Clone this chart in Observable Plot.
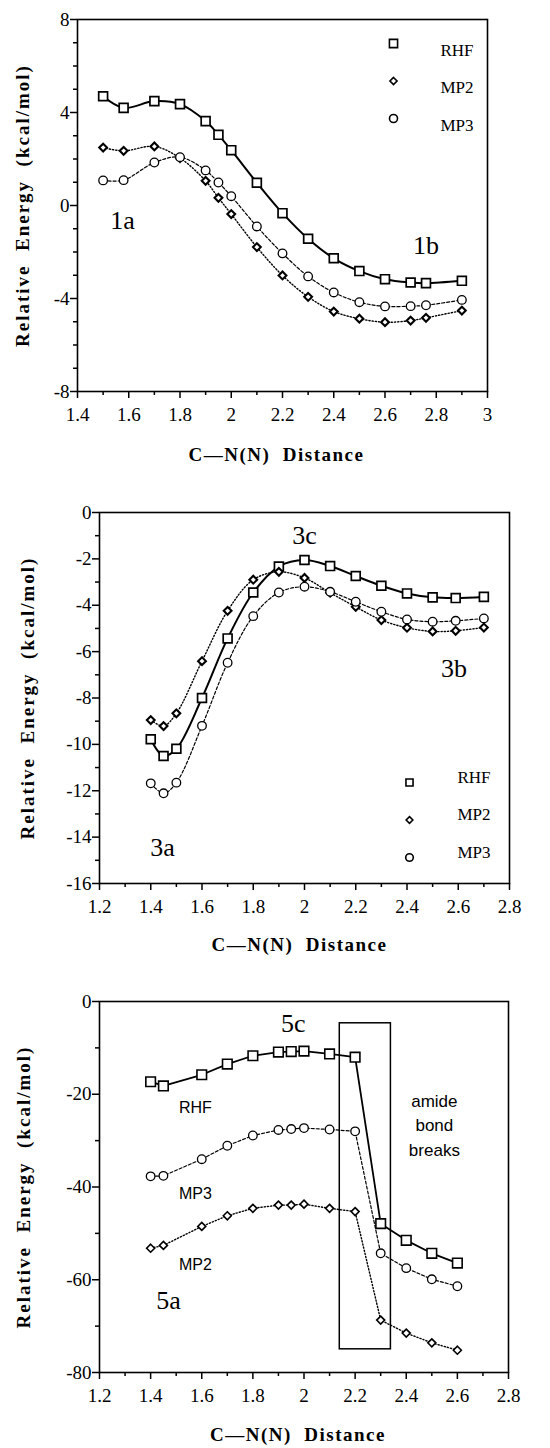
<!DOCTYPE html>
<html><head><meta charset="utf-8">
<script src="https://cdn.jsdelivr.net/npm/d3@7"></script>
<script src="https://cdn.jsdelivr.net/npm/@observablehq/plot@0.6"></script>
<style>body{margin:0;background:#fff;} #c svg{display:block;font-family:'Liberation Serif','Times New Roman',Times,serif;}</style>
</head><body><div id="c"></div>
<script>
// ---------- data ----------
const seriesNames = ["RHF", "MP2", "MP3"];
const yLabel = "Relative  Energy  (kcal/mol)";
const xLabel = "C\u2014N(N)  Distance";

// Panel 1 (1a -> 1b)
const x1 = [1.5, 1.58, 1.7, 1.8, 1.9, 1.95, 2.0, 2.1, 2.2, 2.3, 2.4, 2.5, 2.6, 2.7, 2.76, 2.9];
const rhf1 = [4.7, 4.2, 4.49, 4.36, 3.63, 3.04, 2.38, 0.98, -0.33, -1.43, -2.27, -2.82, -3.17, -3.31, -3.34, -3.24];
const mp2_1 = [2.49, 2.35, 2.54, 2.04, 1.06, 0.33, -0.37, -1.79, -3.01, -3.93, -4.56, -4.87, -5.02, -4.95, -4.83, -4.52];
const mp3_1 = [1.08, 1.09, 1.85, 2.08, 1.51, 0.99, 0.4, -0.9, -2.06, -3.05, -3.74, -4.16, -4.34, -4.33, -4.29, -4.06];
const xTicks1 = [1.4, 1.6, 1.8, 2, 2.2, 2.4, 2.6, 2.8, 3];
const yTicks1 = [-8, -4, 0, 4, 8];
const notes1 = [{label: "1a", x: 1.576, y: -0.65}, {label: "1b", x: 2.76, y: -1.72}];

// Panel 2 (3a -> 3c -> 3b)
const x2 = [1.4, 1.45, 1.5, 1.6, 1.7, 1.8, 1.9, 2.0, 2.1, 2.2, 2.3, 2.4, 2.5, 2.59, 2.7];
const rhf2 = [-9.78, -10.5, -10.19, -8.0, -5.43, -3.45, -2.33, -2.05, -2.31, -2.74, -3.16, -3.49, -3.66, -3.69, -3.64];
const mp2_2 = [-8.95, -9.21, -8.66, -6.41, -4.24, -2.9, -2.56, -2.82, -3.46, -4.07, -4.64, -4.97, -5.13, -5.1, -4.96];
const mp3_2 = [-11.68, -12.11, -11.65, -9.2, -6.48, -4.47, -3.45, -3.2, -3.42, -3.85, -4.28, -4.61, -4.71, -4.67, -4.57];
const xTicks2 = [1.2, 1.4, 1.6, 1.8, 2, 2.2, 2.4, 2.6, 2.8];
const yTicks2 = [-16, -14, -12, -10, -8, -6, -4, -2, 0];
const notes2 = [{label: "3c", x: 2.0, y: -0.99}, {label: "3b", x: 2.583, y: -6.72}, {label: "3a", x: 1.446, y: -14.44}];

// Panel 3 (5a -> 5c)
const x3 = [1.4, 1.45, 1.6, 1.7, 1.8, 1.9, 1.95, 2.0, 2.1, 2.2, 2.3, 2.4, 2.5, 2.6];
const rhf3 = [-17.3, -18.2, -15.8, -13.5, -11.7, -10.9, -10.8, -10.7, -11.3, -12.0, -47.9, -51.5, -54.3, -56.4];
const mp3_3 = [-37.7, -37.6, -34.0, -31.1, -28.9, -27.7, -27.5, -27.3, -27.6, -28.0, -54.3, -57.5, -59.9, -61.4];
const mp2_3 = [-53.2, -52.6, -48.5, -46.2, -44.6, -43.9, -43.9, -43.7, -44.6, -45.3, -68.7, -71.5, -73.6, -75.2];
const xTicks3 = [1.2, 1.4, 1.6, 1.8, 2, 2.2, 2.4, 2.6, 2.8];
const yTicks3 = [-80, -60, -40, -20, 0];
const notes3 = [{label: "5c", x: 1.958, y: -4.74}, {label: "5a", x: 1.47, y: -64.5}];
const seriesNotes3 = [{label: "RHF", x: 1.575, y: -22.9}, {label: "MP3", x: 1.575, y: -41.4}, {label: "MP2", x: 1.575, y: -56.7}];
const breakBox = [{x1: 2.14, x2: 2.34, y1: -75, y2: -4.7}];
const breakNote = [{label: "amide\nbond\nbreaks", x: 2.51, y: -26.3}];

// ---------- drawing ----------
const serif = "'Liberation Serif', 'Times New Roman', Times, serif";
const sans = "'Liberation Sans', Arial, Helvetica, sans-serif";

const styleOf = {
  RHF: {symbol: "square", dash: null, width: 2},
  MP2: {symbol: "diamond2", dash: "1.2,2", width: 1.4},
  MP3: {symbol: "circle", dash: "3,2", width: 1.2}
};

function range(a, b, step) {
  const out = [];
  const n = Math.round((b - a) / step);
  for (let i = 0; i <= n; i++) out.push(+(a + i * step).toFixed(6));
  return out;
}

function panel(cfg) {
  const marks = [];
  for (const s of cfg.series) {
    const st = styleOf[s.name];
    const rows = s.x.map((d, i) => ({x: d, y: s.y[i]}));
    marks.push(Plot.line(rows, {
      x: "x", y: "y", curve: cfg.curve, stroke: "black",
      strokeWidth: cfg.lw ? cfg.lw[s.name] : st.width, strokeDasharray: st.dash
    }));
  }
  for (const s of cfg.series) {
    const st = styleOf[s.name];
    const rows = s.x.map((d, i) => ({x: d, y: s.y[i]}));
    marks.push(Plot.dot(rows, {
      x: "x", y: "y", symbol: () => st.symbol, r: cfg.r[s.name],
      fill: "white", stroke: "black", strokeWidth: cfg.sw[s.name]
    }));
  }
  marks.push(Plot.frame({stroke: "black", strokeWidth: 1.6}));
  marks.push(Plot.axisX(cfg.xMinor, {anchor: "bottom", tickSize: 4, text: null, label: null, strokeWidth: 1.5}));
  marks.push(Plot.axisX(cfg.xTicks, {anchor: "bottom", tickSize: 7, tickPadding: 9, label: null,
    tickFormat: d => String(d), strokeWidth: 1.5, fontSize: 19, fontFamily: serif}));
  marks.push(Plot.axisY(cfg.yMinor, {anchor: "left", tickSize: 4, text: null, label: null, strokeWidth: 1.5}));
  marks.push(Plot.axisY(cfg.yTicks, {anchor: "left", tickSize: 7, tickPadding: 1, label: null,
    tickFormat: d => String(d), strokeWidth: 1.5, fontSize: 19, fontFamily: serif}));
  marks.push(Plot.text([xLabel], {frameAnchor: "bottom", dy: cfg.xLabelDy, dx: cfg.xLabelDx, textAnchor: "middle",
    fontSize: 19, fontWeight: "bold", fontFamily: serif, fill: "black"}));
  marks.push(Plot.text([yLabel], {frameAnchor: "left", dx: cfg.yLabelDx, rotate: -90, textAnchor: "middle",
    fontSize: 19, fontWeight: "bold", fontFamily: serif, fill: "black"}));
  if (cfg.notes) marks.push(Plot.text(cfg.notes, {x: "x", y: "y", text: "label", fontSize: 26, fontFamily: serif, fill: "black"}));
  if (cfg.extra) marks.push(...cfg.extra);
  if (cfg.legend) {
    const L = cfg.legend;
    seriesNames.forEach((name, i) => {
      const st = styleOf[name];
      marks.push(Plot.dot([name], {frameAnchor: L.anchor, dx: L.symDx, dy: L.dy0 + i * L.step,
        symbol: () => st.symbol, r: L.r[name], fill: "white", stroke: "black", strokeWidth: 1.6}));
      marks.push(Plot.text([name], {frameAnchor: L.anchor, dx: L.textDx, dy: L.dy0 + i * L.step,
        textAnchor: "start", fontSize: 17, fontFamily: serif, fill: "black"}));
    });
  }
  const svg = Plot.plot({
    width: 550, height: cfg.height,
    marginLeft: cfg.ml, marginRight: cfg.mr, marginTop: cfg.mt, marginBottom: cfg.mb,
    x: {domain: cfg.xDomain}, y: {domain: cfg.yDomain},
    style: {background: "white", color: "black", overflow: "visible"},
    marks
  });
  svg.setAttribute("font-family", serif);
  d3.select(svg).selectAll("text").each(function () {
    const owner = this.closest("[font-family]");
    const fam = owner ? owner.getAttribute("font-family") : serif;
    this.style.fontFamily = fam;
    const t = this.textContent;
    if (t === yLabel) { this.style.whiteSpace = "pre"; this.style.letterSpacing = "2px"; }
    if (t === xLabel) { this.style.whiteSpace = "pre"; this.style.letterSpacing = "1.5px"; }
  });
  document.getElementById("c").appendChild(svg);
}

// Panel 1
panel({
  height: 470, ml: 77, mr: 63, mt: 19, mb: 79,
  xDomain: [1.4, 3], yDomain: [-8, 8],
  xTicks: xTicks1, xMinor: range(1.5, 2.9, 0.2), yTicks: yTicks1, yMinor: range(-7, 7, 1).filter(v => v % 4 !== 0),
  curve: "catmull-rom",
  series: [{name: "RHF", x: x1, y: rhf1}, {name: "MP2", x: x1, y: mp2_1}, {name: "MP3", x: x1, y: mp3_1}],
  r: {RHF: 5, MP2: 3.5, MP3: 4.3}, sw: {RHF: 1.7, MP2: 2.1, MP3: 1.3},
  xLabelDy: 69, xLabelDx: -6, yLabelDx: -55,
  notes: notes1,
  legend: {anchor: "top-right", symDx: -94, textDx: -47, dy0: 24, step: 37.5, r: {RHF: 4.6, MP2: 3.2, MP3: 4}}
});

// Panel 2
panel({
  height: 490, ml: 99, mr: 41, mt: 42, mb: 77,
  xDomain: [1.2, 2.8], yDomain: [-16, 0],
  xTicks: xTicks2, xMinor: range(1.3, 2.7, 0.2), yTicks: yTicks2, yMinor: range(-15, -1, 2),
  curve: "catmull-rom",
  series: [{name: "RHF", x: x2, y: rhf2}, {name: "MP2", x: x2, y: mp2_2}, {name: "MP3", x: x2, y: mp3_2}],
  r: {RHF: 5, MP2: 3.5, MP3: 4.3}, sw: {RHF: 1.7, MP2: 2.1, MP3: 1.3},
  xLabelDy: 67, xLabelDx: -5, yLabelDx: -72,
  notes: notes2,
  legend: {anchor: "bottom-right", symDx: -100, textDx: -52, dy0: -101, step: 37.5, r: {RHF: 4, MP2: 3, MP3: 3.8}}
});

// Panel 3
panel({
  height: 488, ml: 99, mr: 42, mt: 41, mb: 76,
  xDomain: [1.2, 2.8], yDomain: [-80, 0],
  xTicks: xTicks3, xMinor: range(1.3, 2.7, 0.2), yTicks: yTicks3, yMinor: range(-70, -10, 20),
  curve: "linear",
  series: [{name: "RHF", x: x3, y: rhf3}, {name: "MP3", x: x3, y: mp3_3}, {name: "MP2", x: x3, y: mp2_3}],
  lw: {RHF: 1.8, MP2: 1.4, MP3: 1.2},
  r: {RHF: 5.4, MP2: 3.6, MP3: 4.3}, sw: {RHF: 1.6, MP2: 1.6, MP3: 1.3},
  xLabelDy: 68, xLabelDx: -6, yLabelDx: -76,
  notes: notes3,
  extra: [
    Plot.rect(breakBox, {x1: "x1", x2: "x2", y1: "y1", y2: "y2", fill: "none", stroke: "black", strokeWidth: 1.5}),
    Plot.text(seriesNotes3, {x: "x", y: "y", text: "label", fontFamily: sans, fontSize: 16, fill: "black"}),
    Plot.text(breakNote, {x: "x", y: "y", text: "label", fontFamily: sans, fontSize: 17, lineHeight: 1.45, fill: "black"})
  ]
});
</script>
</body></html>
